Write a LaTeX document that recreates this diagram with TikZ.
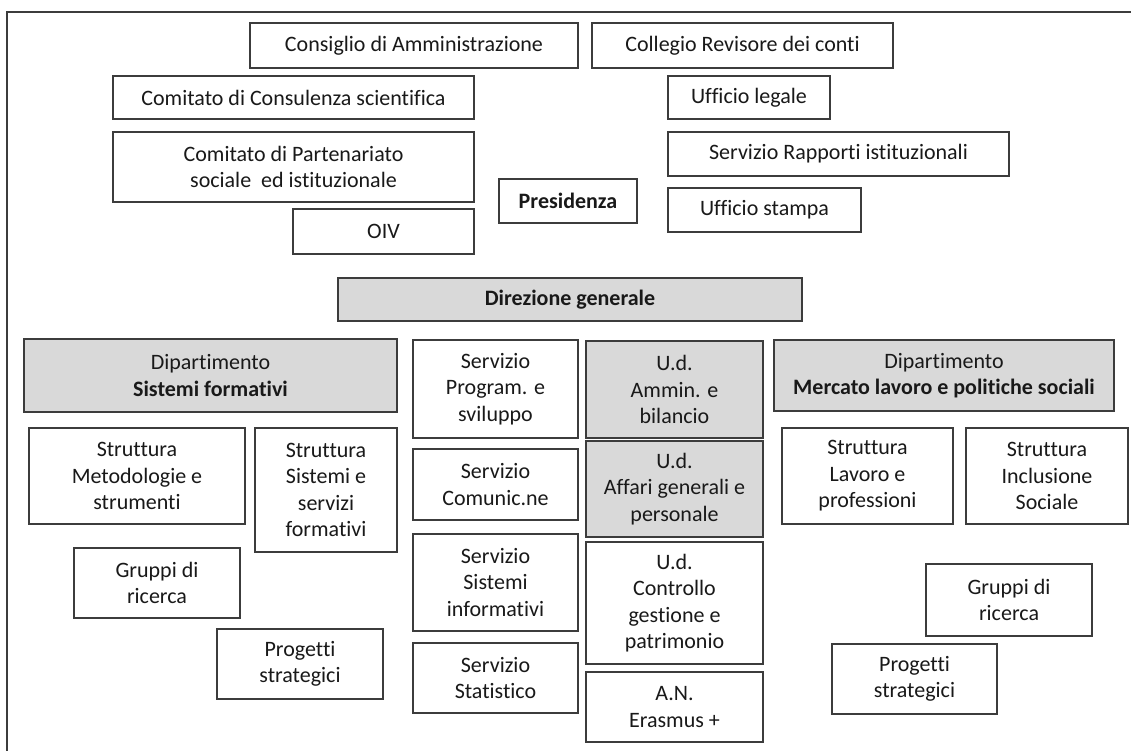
\documentclass[tikz,border=0pt]{standalone}
\usepackage{fontspec}
\setmainfont[Ligatures=NoCommon]{Carlito}
\definecolor{ln}{RGB}{60,60,60}
\definecolor{fl}{RGB}{217,217,217}
\definecolor{tx}{RGB}{25,25,25}
\newcommand{\orgbox}[7]{%
  \node[#6, minimum width={#4-#2}, minimum height={#5-#3}] (#1) at ({(#2+#4)/2},{(#3+#5)/2}) {#7};}
\tikzset{
  box/.style={draw=ln, line width=1.2pt, fill=white, text=tx, align=center, inner sep=0pt,
    font=\fontsize{22}{26.5}\selectfont},
  gbox/.style={box, fill=fl},
  frame/.style={draw=ln, line width=1.4pt}
}
\begin{document}
\begin{tikzpicture}[x=1pt,y=-1pt]
\useasboundingbox (0,0) rectangle (1131,751);
\draw[frame] (7,751) -- (7,12) -- (1131,12);
% top section
\orgbox{cda}{250}{23}{578}{68}{box}{Consiglio di Amministrazione}
\orgbox{crc}{592}{23}{893}{68}{box}{Collegio Revisore dei conti}
\orgbox{ccs}{113}{76}{474}{119}{box}{Comitato di Consulenza scientifica}
\orgbox{cps}{113}{132}{474}{202}{box}{Comitato di Partenariato\\sociale\ \ ed istituzionale}
\orgbox{oiv}{293}{209}{474}{254}{box}{OIV}
\orgbox{ule}{668}{76}{830}{119}{box}{Ufficio legale}
\orgbox{sri}{668}{132}{1009}{176}{box}{Servizio Rapporti istituzionali}
\orgbox{ust}{668}{188}{861}{232}{box}{Ufficio stampa}
\orgbox{pre}{499}{179}{637}{223}{box}{\textbf{Presidenza}}
\orgbox{dir}{338}{278}{802}{321}{gbox}{\textbf{Direzione generale}}
% left department
\orgbox{dsf}{24}{339}{397}{412}{gbox}{Dipartimento\\\textbf{Sistemi formativi}}
\orgbox{smt}{29}{428}{245}{524}{box}{Struttura\\Metodologie e\\strumenti}
\orgbox{sss}{255}{428}{397}{552}{box}{Struttura\\Sistemi e\\servizi\\formativi}
\orgbox{grl}{74}{548}{240}{618}{box}{Gruppi di\\ricerca}
\orgbox{psl}{217}{629}{383}{699}{box}{Progetti\\strategici}
% centre columns
\orgbox{sps}{413}{340}{578}{438}{box}{Servizio\\Program. e\\sviluppo}
\orgbox{sco}{413}{449}{578}{520}{box}{Servizio\\Comunic.ne}
\orgbox{ssi}{413}{534}{578}{631}{box}{Servizio\\Sistemi\\informativi}
\orgbox{sst}{413}{643}{578}{713}{box}{Servizio\\Statistico}
\orgbox{uab}{586}{341}{763}{438}{gbox}{U.d.\\Ammin. e\\bilancio}
\orgbox{uag}{586}{441}{763}{537}{gbox}{U.d.\\Affari generali e\\personale}
\orgbox{ucg}{586}{542}{763}{664}{box}{U.d.\\Controllo\\gestione e\\patrimonio}
\orgbox{ane}{586}{672}{763}{742}{box}{A.N.\\Erasmus +}
% right department
\orgbox{dml}{774}{340}{1114}{411}{gbox}{Dipartimento\\\textbf{Mercato lavoro e politiche sociali}}
\orgbox{slp}{782}{428}{953}{524}{box}{Struttura\\Lavoro e\\professioni}
\orgbox{sis}{966}{428}{1128}{524}{box}{Struttura\\Inclusione\\Sociale}
\orgbox{grr}{926}{564}{1092}{636}{box}{Gruppi di\\ricerca}
\orgbox{psr}{832}{644}{997}{714}{box}{Progetti\\strategici}
\end{tikzpicture}
\end{document}
